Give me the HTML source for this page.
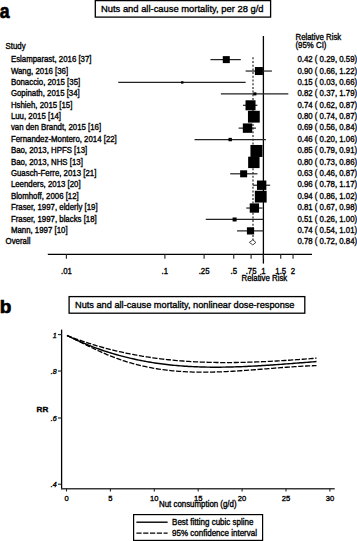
<!DOCTYPE html><html><head><meta charset="utf-8"><style>html,body{margin:0;padding:0;background:#fff;width:357px;height:541px;overflow:hidden}svg{display:block}text{font-family:"Liberation Sans",sans-serif;fill:#000;stroke:#000;stroke-width:0.35px}</style></head><body>
<svg width="357" height="541" viewBox="0 0 357 541">
<text transform="translate(-0.2,18.3) scale(0.9,1)" font-size="19.5" font-weight="bold" style="stroke-width:0.7px">a</text>
<text x="-0.3" y="313.0" font-size="19" font-weight="bold" style="stroke-width:0.7px">b</text>
<rect x="95.3" y="0.6" width="175.3" height="16.5" fill="none" stroke="#000" stroke-width="1.3"/>
<text x="101" y="12" font-size="9.7" textLength="162.5" lengthAdjust="spacingAndGlyphs">Nuts and all-cause mortality, per 28 g/d</text>
<text transform="translate(5.60,48.50) scale(0.9434,1)" font-size="8.32">Study</text>
<text transform="translate(295.50,40.40) scale(0.9434,1)" font-size="8.32">Relative Risk</text>
<text transform="translate(295.50,47.90) scale(0.9434,1)" font-size="8.32">(95% CI)</text>
<text transform="translate(10.90,62.15) scale(0.9434,1)" font-size="8.32">Eslamparast, 2016 [37]</text>
<text transform="translate(297.40,62.15) scale(0.9434,1)" font-size="8.32">0.42 ( 0.29, 0.59)</text>
<text transform="translate(10.90,73.54) scale(0.9434,1)" font-size="8.32">Wang, 2016 [36]</text>
<text transform="translate(297.40,73.54) scale(0.9434,1)" font-size="8.32">0.90 ( 0.66, 1.22)</text>
<text transform="translate(10.90,84.93) scale(0.9434,1)" font-size="8.32">Bonaccio, 2015 [35]</text>
<text transform="translate(297.40,84.93) scale(0.9434,1)" font-size="8.32">0.15 ( 0.03, 0.66)</text>
<text transform="translate(10.90,96.32) scale(0.9434,1)" font-size="8.32">Gopinath, 2015 [34]</text>
<text transform="translate(297.40,96.32) scale(0.9434,1)" font-size="8.32">0.82 ( 0.37, 1.79)</text>
<text transform="translate(10.90,107.71) scale(0.9434,1)" font-size="8.32">Hshieh, 2015 [15]</text>
<text transform="translate(297.40,107.71) scale(0.9434,1)" font-size="8.32">0.74 ( 0.62, 0.87)</text>
<text transform="translate(10.90,119.10) scale(0.9434,1)" font-size="8.32">Luu, 2015 [14]</text>
<text transform="translate(297.40,119.10) scale(0.9434,1)" font-size="8.32">0.80 ( 0.74, 0.87)</text>
<text transform="translate(10.90,130.49) scale(0.9434,1)" font-size="8.32">van den Brandt, 2015 [16]</text>
<text transform="translate(297.40,130.49) scale(0.9434,1)" font-size="8.32">0.69 ( 0.56, 0.84)</text>
<text transform="translate(10.90,141.88) scale(0.9434,1)" font-size="8.32">Fernandez-Montero, 2014 [22]</text>
<text transform="translate(297.40,141.88) scale(0.9434,1)" font-size="8.32">0.46 ( 0.20, 1.06)</text>
<text transform="translate(10.90,153.27) scale(0.9434,1)" font-size="8.32">Bao, 2013, HPFS [13]</text>
<text transform="translate(297.40,153.27) scale(0.9434,1)" font-size="8.32">0.85 ( 0.79, 0.91)</text>
<text transform="translate(10.90,164.66) scale(0.9434,1)" font-size="8.32">Bao, 2013, NHS [13]</text>
<text transform="translate(297.40,164.66) scale(0.9434,1)" font-size="8.32">0.80 ( 0.73, 0.86)</text>
<text transform="translate(10.90,176.05) scale(0.9434,1)" font-size="8.32">Guasch-Ferre, 2013 [21]</text>
<text transform="translate(297.40,176.05) scale(0.9434,1)" font-size="8.32">0.63 ( 0.46, 0.87)</text>
<text transform="translate(10.90,187.44) scale(0.9434,1)" font-size="8.32">Leenders, 2013 [20]</text>
<text transform="translate(297.40,187.44) scale(0.9434,1)" font-size="8.32">0.96 ( 0.78, 1.17)</text>
<text transform="translate(10.90,198.83) scale(0.9434,1)" font-size="8.32">Blomhoff, 2006 [12]</text>
<text transform="translate(297.40,198.83) scale(0.9434,1)" font-size="8.32">0.94 ( 0.86, 1.02)</text>
<text transform="translate(10.90,210.22) scale(0.9434,1)" font-size="8.32">Fraser, 1997, elderly [19]</text>
<text transform="translate(297.40,210.22) scale(0.9434,1)" font-size="8.32">0.81 ( 0.67, 0.98)</text>
<text transform="translate(10.90,221.61) scale(0.9434,1)" font-size="8.32">Fraser, 1997, blacks [18]</text>
<text transform="translate(297.40,221.61) scale(0.9434,1)" font-size="8.32">0.51 ( 0.26, 1.00)</text>
<text transform="translate(10.90,233.00) scale(0.9434,1)" font-size="8.32">Mann, 1997 [10]</text>
<text transform="translate(297.40,233.00) scale(0.9434,1)" font-size="8.32">0.74 ( 0.54, 1.01)</text>
<text transform="translate(5.60,244.39) scale(0.9434,1)" font-size="8.32">Overall</text>
<text transform="translate(297.40,244.39) scale(0.9434,1)" font-size="8.32">0.78 ( 0.72, 0.84)</text>
<line x1="263.4" y1="36" x2="263.4" y2="263.6" stroke="#000" stroke-width="1.3"/>
<line x1="253" y1="57.3" x2="253" y2="240" stroke="#555" stroke-width="1.5" stroke-dasharray="2 1.7"/>
<line x1="210.45" y1="59.62" x2="240.83" y2="59.62" stroke="#222" stroke-width="1.2"/>
<rect x="222.79" y="56.12" width="7" height="7" fill="#000"/>
<line x1="245.63" y1="71.04" x2="271.91" y2="71.04" stroke="#222" stroke-width="1.2"/>
<rect x="254.89" y="67.04" width="8" height="8" fill="#000"/>
<line x1="118.24" y1="82.46" x2="245.63" y2="82.46" stroke="#222" stroke-width="1.2"/>
<rect x="181.04" y="81.26" width="2.4" height="2.4" fill="#000"/>
<line x1="220.87" y1="93.87" x2="288.31" y2="93.87" stroke="#222" stroke-width="1.2"/>
<rect x="253.41" y="92.37" width="3" height="3" fill="#000"/>
<line x1="242.95" y1="105.29" x2="257.44" y2="105.29" stroke="#222" stroke-width="1.2"/>
<rect x="245.52" y="100.29" width="10" height="10" fill="#000"/>
<line x1="250.52" y1="116.71" x2="257.44" y2="116.71" stroke="#222" stroke-width="1.2"/>
<rect x="247.95" y="110.81" width="11.8" height="11.8" fill="#000"/>
<line x1="238.60" y1="128.13" x2="255.94" y2="128.13" stroke="#222" stroke-width="1.2"/>
<rect x="242.83" y="123.43" width="9.4" height="9.4" fill="#000"/>
<line x1="194.55" y1="139.55" x2="265.89" y2="139.55" stroke="#222" stroke-width="1.2"/>
<rect x="228.48" y="137.85" width="3.4" height="3.4" fill="#000"/>
<line x1="253.32" y1="150.96" x2="259.37" y2="150.96" stroke="#222" stroke-width="1.2"/>
<rect x="250.45" y="144.96" width="12" height="12" fill="#000"/>
<line x1="249.94" y1="162.38" x2="256.95" y2="162.38" stroke="#222" stroke-width="1.2"/>
<rect x="248.15" y="156.68" width="11.4" height="11.4" fill="#000"/>
<line x1="230.18" y1="173.80" x2="257.44" y2="173.80" stroke="#222" stroke-width="1.2"/>
<rect x="240.14" y="170.30" width="7" height="7" fill="#000"/>
<line x1="252.77" y1="185.22" x2="270.12" y2="185.22" stroke="#222" stroke-width="1.2"/>
<rect x="256.95" y="180.52" width="9.4" height="9.4" fill="#000"/>
<line x1="256.95" y1="196.64" x2="264.25" y2="196.64" stroke="#222" stroke-width="1.2"/>
<rect x="254.85" y="190.74" width="11.8" height="11.8" fill="#000"/>
<line x1="246.27" y1="208.05" x2="262.54" y2="208.05" stroke="#222" stroke-width="1.2"/>
<rect x="249.74" y="203.40" width="9.3" height="9.3" fill="#000"/>
<line x1="205.77" y1="219.47" x2="263.40" y2="219.47" stroke="#222" stroke-width="1.2"/>
<rect x="232.60" y="217.47" width="4" height="4" fill="#000"/>
<line x1="237.04" y1="230.89" x2="263.83" y2="230.89" stroke="#222" stroke-width="1.2"/>
<rect x="246.92" y="227.29" width="7.2" height="7.2" fill="#000"/>
<polygon points="249.35,242.4 252.77,239.9 255.94,242.4 252.77,244.9" fill="#fff" stroke="#333" stroke-width="0.9"/>
<line x1="47.8" y1="254.3" x2="312" y2="254.3" stroke="#000" stroke-width="1.3"/>
<line x1="66.40" y1="254.3" x2="66.40" y2="258.7" stroke="#222" stroke-width="1.1"/>
<text transform="translate(66.40,273.60) scale(0.9434,1)" font-size="8.32" text-anchor="middle">.01</text>
<line x1="164.90" y1="254.3" x2="164.90" y2="258.7" stroke="#222" stroke-width="1.1"/>
<text transform="translate(164.90,273.60) scale(0.9434,1)" font-size="8.32" text-anchor="middle">.1</text>
<line x1="204.10" y1="254.3" x2="204.10" y2="258.7" stroke="#222" stroke-width="1.1"/>
<text transform="translate(204.10,273.60) scale(0.9434,1)" font-size="8.32" text-anchor="middle">.25</text>
<line x1="233.75" y1="254.3" x2="233.75" y2="258.7" stroke="#222" stroke-width="1.1"/>
<text transform="translate(233.75,273.60) scale(0.9434,1)" font-size="8.32" text-anchor="middle">.5</text>
<line x1="251.09" y1="254.3" x2="251.09" y2="258.7" stroke="#222" stroke-width="1.1"/>
<text transform="translate(251.09,273.60) scale(0.9434,1)" font-size="8.32" text-anchor="middle">.75</text>
<line x1="263.40" y1="254.3" x2="263.40" y2="258.7" stroke="#222" stroke-width="1.1"/>
<text transform="translate(263.40,273.60) scale(0.9434,1)" font-size="8.32" text-anchor="middle">1</text>
<line x1="280.74" y1="254.3" x2="280.74" y2="258.7" stroke="#222" stroke-width="1.1"/>
<text transform="translate(280.74,273.60) scale(0.9434,1)" font-size="8.32" text-anchor="middle">1.5</text>
<line x1="293.05" y1="254.3" x2="293.05" y2="258.7" stroke="#222" stroke-width="1.1"/>
<text transform="translate(293.05,273.60) scale(0.9434,1)" font-size="8.32" text-anchor="middle">2</text>
<text transform="translate(264.40,281.40) scale(0.9434,1)" font-size="8.32" text-anchor="middle">Relative Risk</text>
<rect x="69.1" y="296.6" width="235.7" height="16.6" fill="none" stroke="#000" stroke-width="1.3"/>
<text x="75.0" y="308.3" font-size="9.7" textLength="219.5" lengthAdjust="spacingAndGlyphs">Nuts and all-cause mortality, nonlinear dose-response</text>
<line x1="61.6" y1="329.6" x2="61.6" y2="489.3" stroke="#000" stroke-width="1.3"/>
<line x1="58" y1="334.60" x2="61.6" y2="334.60" stroke="#222" stroke-width="1.1"/>
<text x="56.6" y="337.70" font-size="7.1" text-anchor="end" font-style="italic">1</text>
<line x1="58" y1="371.04" x2="61.6" y2="371.04" stroke="#222" stroke-width="1.1"/>
<text x="56.6" y="374.14" font-size="7.1" text-anchor="end" font-style="italic">.8</text>
<line x1="58" y1="418.02" x2="61.6" y2="418.02" stroke="#222" stroke-width="1.1"/>
<text x="56.6" y="421.12" font-size="7.1" text-anchor="end" font-style="italic">.6</text>
<line x1="58" y1="484.23" x2="61.6" y2="484.23" stroke="#222" stroke-width="1.1"/>
<text x="56.6" y="487.33" font-size="7.1" text-anchor="end" font-style="italic">.4</text>
<text x="36.6" y="411.8" font-size="8.1" font-weight="bold">RR</text>
<line x1="61.0" y1="488.7" x2="334.7" y2="488.7" stroke="#3a3a3a" stroke-width="1.5"/>
<line x1="66.50" y1="488.7" x2="66.50" y2="491.5" stroke="#222" stroke-width="1.1"/>
<text transform="translate(66.50,500.90) scale(0.9434,1)" font-size="8.06" text-anchor="middle">0</text>
<line x1="110.40" y1="488.7" x2="110.40" y2="491.5" stroke="#222" stroke-width="1.1"/>
<text transform="translate(110.40,500.90) scale(0.9434,1)" font-size="8.06" text-anchor="middle">5</text>
<line x1="154.30" y1="488.7" x2="154.30" y2="491.5" stroke="#222" stroke-width="1.1"/>
<text transform="translate(154.30,500.90) scale(0.9434,1)" font-size="8.06" text-anchor="middle">10</text>
<line x1="198.20" y1="488.7" x2="198.20" y2="491.5" stroke="#222" stroke-width="1.1"/>
<text transform="translate(198.20,500.90) scale(0.9434,1)" font-size="8.06" text-anchor="middle">15</text>
<line x1="242.10" y1="488.7" x2="242.10" y2="491.5" stroke="#222" stroke-width="1.1"/>
<text transform="translate(242.10,500.90) scale(0.9434,1)" font-size="8.06" text-anchor="middle">20</text>
<line x1="286.00" y1="488.7" x2="286.00" y2="491.5" stroke="#222" stroke-width="1.1"/>
<text transform="translate(286.00,500.90) scale(0.9434,1)" font-size="8.06" text-anchor="middle">25</text>
<line x1="329.90" y1="488.7" x2="329.90" y2="491.5" stroke="#222" stroke-width="1.1"/>
<text transform="translate(329.90,500.90) scale(0.9434,1)" font-size="8.06" text-anchor="middle">30</text>
<text transform="translate(159.00,507.30) scale(0.9434,1)" font-size="8.37">Nut consumption (g/d)</text>
<path d="M67.0,335.48 L69.0,336.47 L71.0,337.43 L73.0,338.38 L75.0,339.31 L77.0,340.22 L79.0,341.11 L81.0,341.98 L83.0,342.84 L85.0,343.67 L87.0,344.49 L89.0,345.30 L91.0,346.08 L92.9,346.85 L94.9,347.60 L96.9,348.33 L98.9,349.05 L100.9,349.75 L102.9,350.44 L104.9,351.10 L106.9,351.76 L108.9,352.39 L110.9,353.01 L112.9,353.62 L114.9,354.20 L116.9,354.78 L118.9,355.34 L120.9,355.88 L122.9,356.41 L124.9,356.92 L126.9,357.42 L128.9,357.90 L130.9,358.37 L132.9,358.83 L134.9,359.27 L136.9,359.70 L138.9,360.11 L140.9,360.51 L142.8,360.90 L144.8,361.27 L146.8,361.63 L148.8,361.98 L150.8,362.31 L152.8,362.63 L154.8,362.94 L156.8,363.24 L158.8,363.52 L160.8,363.80 L162.8,364.06 L164.8,364.31 L166.8,364.54 L168.8,364.77 L170.8,364.98 L172.8,365.19 L174.8,365.38 L176.8,365.56 L178.8,365.73 L180.8,365.89 L182.8,366.04 L184.8,366.18 L186.8,366.31 L188.8,366.43 L190.8,366.54 L192.7,366.64 L194.7,366.73 L196.7,366.82 L198.7,366.89 L200.7,366.96 L202.7,367.01 L204.7,367.06 L206.7,367.10 L208.7,367.13 L210.7,367.16 L212.7,367.17 L214.7,367.18 L216.7,367.19 L218.7,367.18 L220.7,367.17 L222.7,367.15 L224.7,367.12 L226.7,367.09 L228.7,367.05 L230.7,367.00 L232.7,366.95 L234.7,366.89 L236.7,366.83 L238.7,366.76 L240.7,366.69 L242.6,366.61 L244.6,366.53 L246.6,366.44 L248.6,366.34 L250.6,366.25 L252.6,366.14 L254.6,366.04 L256.6,365.93 L258.6,365.81 L260.6,365.69 L262.6,365.57 L264.6,365.45 L266.6,365.32 L268.6,365.19 L270.6,365.05 L272.6,364.92 L274.6,364.78 L276.6,364.64 L278.6,364.49 L280.6,364.35 L282.6,364.20 L284.6,364.05 L286.6,363.90 L288.6,363.75 L290.6,363.60 L292.5,363.44 L294.5,363.29 L296.5,363.14 L298.5,362.98 L300.5,362.82 L302.5,362.67 L304.5,362.51 L306.5,362.36 L308.5,362.20 L310.5,362.05 L312.5,361.89 L314.5,361.74 L316.5,361.59" fill="none" stroke="#000" stroke-width="1.45"/>
<path d="M67.0,335.50 L69.0,336.28 L71.0,337.04 L73.0,337.79 L75.0,338.53 L77.0,339.26 L79.0,339.97 L81.0,340.67 L83.0,341.35 L85.0,342.02 L87.0,342.68 L89.0,343.33 L91.0,343.96 L92.9,344.58 L94.9,345.19 L96.9,345.78 L98.9,346.37 L100.9,346.94 L102.9,347.50 L104.9,348.04 L106.9,348.58 L108.9,349.10 L110.9,349.61 L112.9,350.11 L114.9,350.60 L116.9,351.07 L118.9,351.54 L120.9,351.99 L122.9,352.43 L124.9,352.87 L126.9,353.29 L128.9,353.70 L130.9,354.09 L132.9,354.48 L134.9,354.86 L136.9,355.23 L138.9,355.58 L140.9,355.93 L142.8,356.27 L144.8,356.59 L146.8,356.91 L148.8,357.22 L150.8,357.51 L152.8,357.80 L154.8,358.08 L156.8,358.34 L158.8,358.60 L160.8,358.85 L162.8,359.09 L164.8,359.32 L166.8,359.55 L168.8,359.76 L170.8,359.97 L172.8,360.16 L174.8,360.35 L176.8,360.53 L178.8,360.70 L180.8,360.86 L182.8,361.02 L184.8,361.16 L186.8,361.30 L188.8,361.43 L190.8,361.56 L192.7,361.67 L194.7,361.78 L196.7,361.88 L198.7,361.97 L200.7,362.06 L202.7,362.14 L204.7,362.21 L206.7,362.27 L208.7,362.33 L210.7,362.38 L212.7,362.43 L214.7,362.47 L216.7,362.50 L218.7,362.52 L220.7,362.54 L222.7,362.56 L224.7,362.56 L226.7,362.56 L228.7,362.56 L230.7,362.55 L232.7,362.53 L234.7,362.51 L236.7,362.49 L238.7,362.45 L240.7,362.42 L242.6,362.38 L244.6,362.33 L246.6,362.28 L248.6,362.22 L250.6,362.16 L252.6,362.09 L254.6,362.02 L256.6,361.95 L258.6,361.87 L260.6,361.78 L262.6,361.70 L264.6,361.60 L266.6,361.51 L268.6,361.41 L270.6,361.31 L272.6,361.20 L274.6,361.09 L276.6,360.98 L278.6,360.86 L280.6,360.74 L282.6,360.62 L284.6,360.49 L286.6,360.36 L288.6,360.23 L290.6,360.10 L292.5,359.96 L294.5,359.82 L296.5,359.68 L298.5,359.54 L300.5,359.39 L302.5,359.25 L304.5,359.10 L306.5,358.94 L308.5,358.79 L310.5,358.64 L312.5,358.48 L314.5,358.32 L316.5,358.16" fill="none" stroke="#000" stroke-width="1.3" stroke-dasharray="5.2 1.6"/>
<path d="M67.0,335.49 L69.0,336.46 L71.0,337.44 L73.0,338.43 L75.0,339.41 L77.0,340.40 L79.0,341.39 L81.0,342.38 L83.0,343.37 L85.0,344.36 L87.0,345.34 L89.0,346.31 L91.0,347.28 L92.9,348.23 L94.9,349.18 L96.9,350.11 L98.9,351.03 L100.9,351.93 L102.9,352.82 L104.9,353.69 L106.9,354.54 L108.9,355.37 L110.9,356.17 L112.9,356.95 L114.9,357.71 L116.9,358.45 L118.9,359.16 L120.9,359.85 L122.9,360.52 L124.9,361.17 L126.9,361.79 L128.9,362.40 L130.9,362.98 L132.9,363.54 L134.9,364.08 L136.9,364.60 L138.9,365.11 L140.9,365.59 L142.8,366.05 L144.8,366.49 L146.8,366.91 L148.8,367.32 L150.8,367.71 L152.8,368.07 L154.8,368.42 L156.8,368.75 L158.8,369.07 L160.8,369.37 L162.8,369.65 L164.8,369.91 L166.8,370.16 L168.8,370.39 L170.8,370.60 L172.8,370.80 L174.8,370.99 L176.8,371.16 L178.8,371.32 L180.8,371.46 L182.8,371.58 L184.8,371.70 L186.8,371.80 L188.8,371.89 L190.8,371.97 L192.7,372.03 L194.7,372.08 L196.7,372.12 L198.7,372.15 L200.7,372.17 L202.7,372.18 L204.7,372.17 L206.7,372.16 L208.7,372.14 L210.7,372.11 L212.7,372.07 L214.7,372.02 L216.7,371.96 L218.7,371.90 L220.7,371.83 L222.7,371.75 L224.7,371.66 L226.7,371.57 L228.7,371.46 L230.7,371.36 L232.7,371.25 L234.7,371.13 L236.7,371.01 L238.7,370.88 L240.7,370.75 L242.6,370.61 L244.6,370.47 L246.6,370.33 L248.6,370.18 L250.6,370.03 L252.6,369.88 L254.6,369.73 L256.6,369.57 L258.6,369.41 L260.6,369.26 L262.6,369.10 L264.6,368.94 L266.6,368.78 L268.6,368.62 L270.6,368.46 L272.6,368.30 L274.6,368.14 L276.6,367.98 L278.6,367.83 L280.6,367.67 L282.6,367.52 L284.6,367.37 L286.6,367.23 L288.6,367.09 L290.6,366.95 L292.5,366.81 L294.5,366.68 L296.5,366.56 L298.5,366.43 L300.5,366.32 L302.5,366.21 L304.5,366.10 L306.5,366.01 L308.5,365.91 L310.5,365.83 L312.5,365.75 L314.5,365.68 L316.5,365.62" fill="none" stroke="#000" stroke-width="1.3" stroke-dasharray="5.2 1.6"/>
<rect x="133.6" y="514.6" width="129" height="25.8" fill="none" stroke="#000" stroke-width="1.2"/>
<line x1="136.4" y1="522.2" x2="167.6" y2="522.2" stroke="#000" stroke-width="1.4"/>
<line x1="136.4" y1="533.1" x2="167.6" y2="533.1" stroke="#000" stroke-width="1.4" stroke-dasharray="5.2 1.6"/>
<text transform="translate(172.10,524.70) scale(0.9434,1)" font-size="8.48">Best fitting cubic spline</text>
<text transform="translate(172.10,536.40) scale(0.9434,1)" font-size="8.48">95% confidence interval</text>
</svg></body></html>
